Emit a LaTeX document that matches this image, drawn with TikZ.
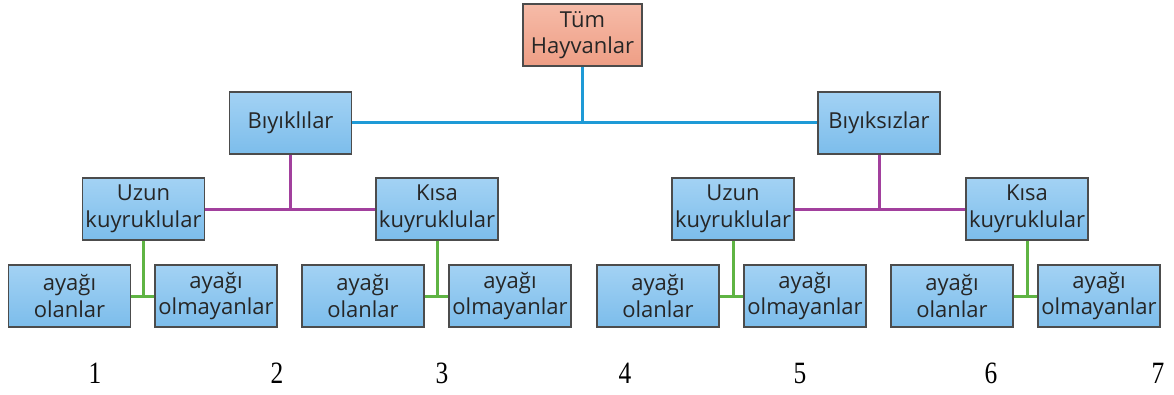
\documentclass[tikz,border=0pt]{standalone}
\usepackage{fontspec}
\setmainfont{Liberation Serif}
\newfontfamily\boxfont{Open Sans}
\newcommand{\colnum}[1]{\scalebox{0.82}[1]{#1}}
\begin{document}
\begin{tikzpicture}[x=1pt,y=1pt,
  box/.style={draw=black!70, line width=1.1pt, minimum width=122pt, minimum height=62pt,
    inner sep=1pt, align=center, top color=bluetop, bottom color=bluebot,
    font=\boxfont\fontsize{22}{26.5}\selectfont, text=black!85},
  rootbox/.style={box, minimum width=119pt, top color=salmontop, bottom color=salmonbot},
  lvlone/.style={line width=3pt, draw=linkblue},
  lvltwo/.style={line width=3pt, draw=linkpurple},
  lvlthree/.style={line width=3pt, draw=linkgreen},
  num/.style={font=\fontsize{31}{32}\selectfont, inner sep=0pt}]
\definecolor{bluetop}{HTML}{A3D2F4}
\definecolor{bluebot}{HTML}{7CBDEB}
\definecolor{salmontop}{HTML}{F6BBA8}
\definecolor{salmonbot}{HTML}{EE9E85}
\definecolor{linkblue}{HTML}{1E9AD6}
\definecolor{linkpurple}{HTML}{A2409D}
\definecolor{linkgreen}{HTML}{5FB443}
\useasboundingbox (0,0) rectangle (1174,394);

% root and first split
\node[rootbox] (root) at (582.5,359) {Tüm\\Hayvanlar};
\node[box] (biy) at (290.5,271) {Bıyıklılar};
\node[box] (biz) at (879,271) {Bıyıksızlar};

% second level
\node[box] (uzl) at (143.5,185) {Uzun\\kuyruklular};
\node[box] (ksl) at (437,185) {Kısa\\kuyruklular};
\node[box] (uzr) at (733,185) {Uzun\\kuyruklular};
\node[box] (ksr) at (1027,185) {Kısa\\kuyruklular};

% third level
\node[box] (a1) at (69.5,98) {ayağı\\olanlar};
\node[box] (b1) at (216,98) {ayağı\\olmayanlar};
\node[box] (a2) at (363,98) {ayağı\\olanlar};
\node[box] (b2) at (510,98) {ayağı\\olmayanlar};
\node[box] (a3) at (658,98) {ayağı\\olanlar};
\node[box] (b3) at (805,98) {ayağı\\olmayanlar};
\node[box] (a4) at (952,98) {ayağı\\olanlar};
\node[box] (b4) at (1099,98) {ayağı\\olmayanlar};

% connectors
\draw[lvlone] (root.south) -- (root.south |- biy.east);
\draw[lvlone] (biy.east) -- (biz.west);

\draw[lvltwo] (biy.south) -- (biy.south |- uzl.east);
\draw[lvltwo] (uzl.east) -- (ksl.west);
\draw[lvltwo] (biz.south) -- (biz.south |- uzr.east);
\draw[lvltwo] (uzr.east) -- (ksr.west);

\draw[lvlthree] (uzl.south) -- (uzl.south |- a1.east);
\draw[lvlthree] (a1.east) -- (b1.west);
\draw[lvlthree] (ksl.south) -- (ksl.south |- a2.east);
\draw[lvlthree] (a2.east) -- (b2.west);
\draw[lvlthree] (uzr.south) -- (uzr.south |- a3.east);
\draw[lvlthree] (a3.east) -- (b3.west);
\draw[lvlthree] (ksr.south) -- (ksr.south |- a4.east);
\draw[lvlthree] (a4.east) -- (b4.west);

% column numbers
\node[num] (n1) at (95,20.5) {\colnum{1}};
\node[num] (n2) at (277,20.5) {\colnum{2}};
\node[num] (n3) at (442,20.5) {\colnum{3}};
\node[num] (n4) at (625,20.5) {\colnum{4}};
\node[num] (n5) at (800,20.5) {\colnum{5}};
\node[num] (n6) at (991,20.5) {\colnum{6}};
\node[num] (n7) at (1158,20.5) {\colnum{7}};
\end{tikzpicture}
\end{document}
